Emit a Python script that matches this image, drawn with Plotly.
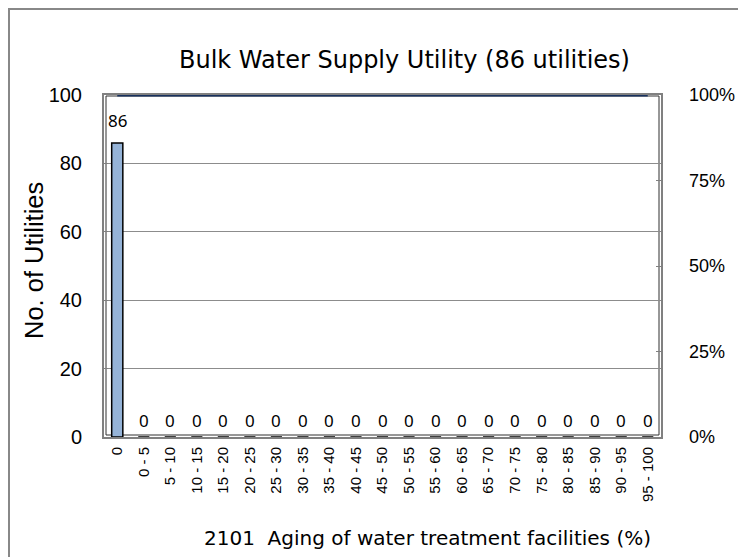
import plotly.graph_objects as go
import numpy as np

categories = ["0", "0 - 5", "5 - 10", "10 - 15", "15 - 20", "20 - 25", "25 - 30", "30 - 35", "35 - 40",
              "40 - 45", "45 - 50", "50 - 55", "55 - 60", "60 - 65", "65 - 70", "70 - 75", "75 - 80",
              "80 - 85", "85 - 90", "90 - 95", "95 - 100"]
counts = [86, 0, 0, 0, 0, 0, 0, 0, 0, 0, 0, 0, 0, 0, 0, 0, 0, 0, 0, 0, 0]
left_ticks = [0, 20, 40, 60, 80, 100]
right_ticks = [0, 0.25, 0.5, 0.75, 1.0]
right_tick_labels = ["0%", "25%", "50%", "75%", "100%"]

title_text = "Bulk Water Supply Utility (86 utilities)"
x_title = "2101&nbsp;&nbsp;Aging of water treatment facilities (%)"
y_title = "No. of Utilities"

cum = np.cumsum(counts) / np.sum(counts)

# the page body adds an 8px offset; figure sized to fit the window
OFF = 8
W, H = 746 - OFF, 557 - OFF
PL, PR, PT, PB = 104, 661, 95, 437  # plot box in page pixels
L, T = PL - OFF, PT - OFF
R, B = W - (PR - OFF), H - (PB - OFF)
pw, ph = W - L - R, H - T - B


def px2x(px):
    return (px - OFF - L) / pw


def py2y(py):
    return (H - B - (py - OFF)) / ph


fig = go.Figure()
fig.add_trace(go.Bar(
    x=categories, y=counts, width=0.42,
    marker=dict(color="#95B3D7", line=dict(color="#000000", width=1.5)),
    hoverinfo="skip", showlegend=False))
fig.add_trace(go.Scatter(
    x=categories, y=cum, yaxis="y2", mode="lines",
    line=dict(color="#17305E", width=3), showlegend=False, hoverinfo="skip",
    cliponaxis=False))

for c, v in zip(categories, counts):
    fig.add_annotation(x=c, y=v, text=str(v), showarrow=False, yshift=22 if v > 0 else 17,
                       font=dict(family="Noto Sans", size=17, color="#000000"))

# titles
fig.add_annotation(xref="paper", yref="paper", x=px2x(404), y=py2y(60), text=title_text,
                   showarrow=False, xanchor="center", yanchor="middle",
                   font=dict(family="DejaVu Sans", size=24, color="#000000"))
fig.add_annotation(xref="paper", yref="paper", x=px2x(427), y=py2y(538), text=x_title,
                   showarrow=False, xanchor="center", yanchor="middle",
                   font=dict(family="DejaVu Sans", size=20, color="#000000"))
fig.add_annotation(xref="paper", yref="paper", x=px2x(34), y=py2y(261), text=y_title,
                   showarrow=False, xanchor="center", yanchor="middle", textangle=-90,
                   font=dict(family="Liberation Sans", size=25.5, color="#000000"))

shapes = [
    # outer border
    dict(type="rect", xref="paper", yref="paper", x0=px2x(9), x1=px2x(745),
         y0=py2y(600), y1=py2y(9), line=dict(color="#888888", width=2), layer="below"),
    # plot frame (outer grey + inner dark)
    dict(type="rect", xref="paper", yref="paper", x0=px2x(103), x1=px2x(662),
         y0=py2y(438), y1=py2y(94), line=dict(color="#808080", width=2), layer="between"),
    dict(type="rect", xref="paper", yref="paper", x0=px2x(106), x1=px2x(659),
         y0=py2y(435), y1=py2y(96), line=dict(color="#303030", width=1), layer="between"),
]

fig.update_layout(
    template="none",
    width=W, height=H,
    margin=dict(l=L, r=R, t=T, b=B, autoexpand=False),
    paper_bgcolor="white", plot_bgcolor="white",
    font=dict(family="Liberation Sans, Arial", color="#000000"),
    xaxis=dict(type="category", tickangle=-90, tickfont=dict(size=15),
               showgrid=False, showline=False, ticks="", zeroline=False,
               automargin=False, ticklabelstandoff=6,
               range=[-0.5, len(categories) - 0.5]),
    yaxis=dict(range=[0, 100], tickvals=left_ticks, tickfont=dict(size=20),
               showgrid=True, gridcolor="#8c8c8c", gridwidth=1,
               showline=False, zeroline=False, ticks="inside", ticklen=4,
               tickcolor="#808080", automargin=False, ticklabelstandoff=21),
    yaxis2=dict(range=[0, 1], overlaying="y", side="right", tickvals=right_ticks,
                ticktext=right_tick_labels, tickfont=dict(size=18), showgrid=False,
                zeroline=False, showline=False, ticks="inside", ticklen=5,
                tickcolor="#808080", automargin=False, ticklabelstandoff=27),
    shapes=shapes,
    showlegend=False,
)

fig.write_html("out.html")
